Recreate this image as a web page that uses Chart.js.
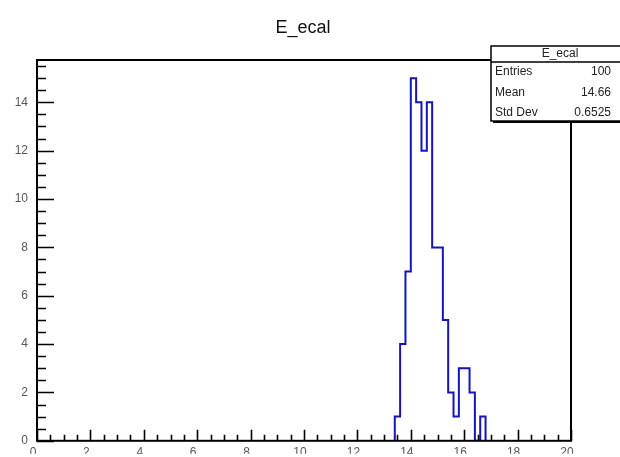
<!DOCTYPE html>
<html>
<head>
<meta charset="utf-8">
<script src="https://cdn.jsdelivr.net/npm/chart.js@4.4.1/dist/chart.umd.min.js"></script>
<style>
html, body { margin: 0; padding: 0; background: #fff; }
canvas { display: block; }
</style>
</head>
<body>
<canvas id="chart" width="620" height="457"></canvas>
<script>
const histTitle = 'E_ecal'
// lower/upper edges of the filled bins (0.2 wide), and their contents
const binEdges = [13.4, 13.6, 13.8, 14.0, 14.2, 14.4, 14.6, 14.8, 15.0, 15.2, 15.4, 15.6, 15.8, 16.0, 16.2, 16.4, 16.6, 16.8]
const binCounts = [1, 4, 7, 15, 14, 12, 14, 8, 8, 5, 2, 1, 3, 3, 2, 0, 1]
const xTickValues = [0, 2, 4, 6, 8, 10, 12, 14, 16, 18, 20]
const yTickValues = [0, 2, 4, 6, 8, 10, 12, 14]
const statLabels = ['Entries', 'Mean', 'Std Dev']
const statValues = ['100', '14.66', '0.6525']

// step outline: each point sits on a bin's upper edge with that bin's content,
// 'after' stepping climbs at the lower edge and then runs across the bin
let outline = [{x: binEdges[0], y: 0}]
binCounts.forEach((c, i) => outline.push({x: binEdges[i + 1], y: c}))
outline.push({x: binEdges[binEdges.length - 1], y: 0})

const FONT = '"Liberation Sans", Arial, sans-serif'

const rootFrame = {
    id: 'rootFrame',
    afterDatasetsDraw(chart) {
        const {ctx, chartArea: {left, top, right, bottom}, scales: {x, y}} = chart
        ctx.save()
        ctx.strokeStyle = '#000'
        ctx.lineWidth = 2
        ctx.strokeRect(left, top, right - left, bottom - top)

        // inward ticks, ROOT style (major every 2, minor every 0.5)
        ctx.lineWidth = 1.6
        ctx.beginPath()
        for (let i = 0; i <= 40; i++) {
            const px = Math.round(x.getPixelForValue(i * 0.5)) + 0.5
            const len = i % 4 === 0 ? 11 : 6
            ctx.moveTo(px, bottom)
            ctx.lineTo(px, bottom - len)
        }
        for (let i = 0; i <= 31; i++) {
            const py = Math.round(y.getPixelForValue(i * 0.5)) + 0.5
            const len = i % 4 === 0 ? 17 : 9
            ctx.moveTo(left, py)
            ctx.lineTo(left + len, py)
        }
        ctx.stroke()
        ctx.restore()
    },
    afterDraw(chart) {
        const {ctx} = chart
        ctx.save()
        // title
        ctx.fillStyle = '#111'
        ctx.font = '18px ' + FONT
        ctx.textAlign = 'center'
        ctx.textBaseline = 'middle'
        ctx.fillText(histTitle, 303, 28)

        // stats box with shadow
        const bx = 491, by = 46, bw = 140, bh = 75
        ctx.fillStyle = '#000'
        ctx.fillRect(bx + 2, by + 2, bw, bh)
        ctx.fillStyle = '#fff'
        ctx.fillRect(bx, by, bw, bh)
        ctx.strokeStyle = '#000'
        ctx.lineWidth = 1.5
        ctx.strokeRect(bx, by, bw, bh)
        ctx.beginPath()
        ctx.moveTo(bx, 62)
        ctx.lineTo(bx + bw, 62)
        ctx.stroke()

        ctx.fillStyle = '#222'
        ctx.font = '12px ' + FONT
        ctx.textAlign = 'center'
        ctx.fillText(histTitle, 560, 54)
        const rowY = [72, 93, 113]
        statLabels.forEach((lab, i) => {
            ctx.textAlign = 'left'
            ctx.fillText(lab, 495, rowY[i])
            ctx.textAlign = 'right'
            ctx.fillText(statValues[i], 611, rowY[i])
        })
        ctx.restore()
    }
}

new Chart(document.getElementById('chart'), {
    type: 'line',
    data: {
        datasets: [
            {
                label: histTitle,
                data: outline,
                borderColor: '#1414b8',
                borderWidth: 2,
                stepped: 'after',
                pointRadius: 0,
                fill: false
            }
        ]
    },
    options: {
        responsive: false,
        animation: false,
        devicePixelRatio: 1,
        layout: {
            padding: {top: 60, right: 49, left: 0, bottom: 0}
        },
        scales: {
            x: {
                type: 'linear',
                min: 0,
                max: 20,
                grid: {display: false, drawTicks: false},
                border: {display: false},
                afterBuildTicks: s => { s.ticks = xTickValues.map(v => ({value: v})) },
                afterFit: s => { s.height = 13 },
                ticks: {
                    padding: 5,
                    labelOffset: -4,
                    maxRotation: 0,
                    autoSkip: false,
                    color: '#555',
                    font: {family: FONT, size: 12}
                }
            },
            y: {
                type: 'linear',
                min: 0,
                max: 15.75,
                grid: {display: false, drawTicks: false},
                border: {display: false},
                afterBuildTicks: s => { s.ticks = yTickValues.map(v => ({value: v})) },
                afterFit: s => { s.width = 37 },
                ticks: {
                    padding: 9,
                    autoSkip: false,
                    color: '#555',
                    font: {family: FONT, size: 12}
                }
            }
        },
        plugins: {
            legend: {display: false},
            tooltip: {enabled: false}
        }
    },
    plugins: [rootFrame]
})
</script>
</body>
</html>
